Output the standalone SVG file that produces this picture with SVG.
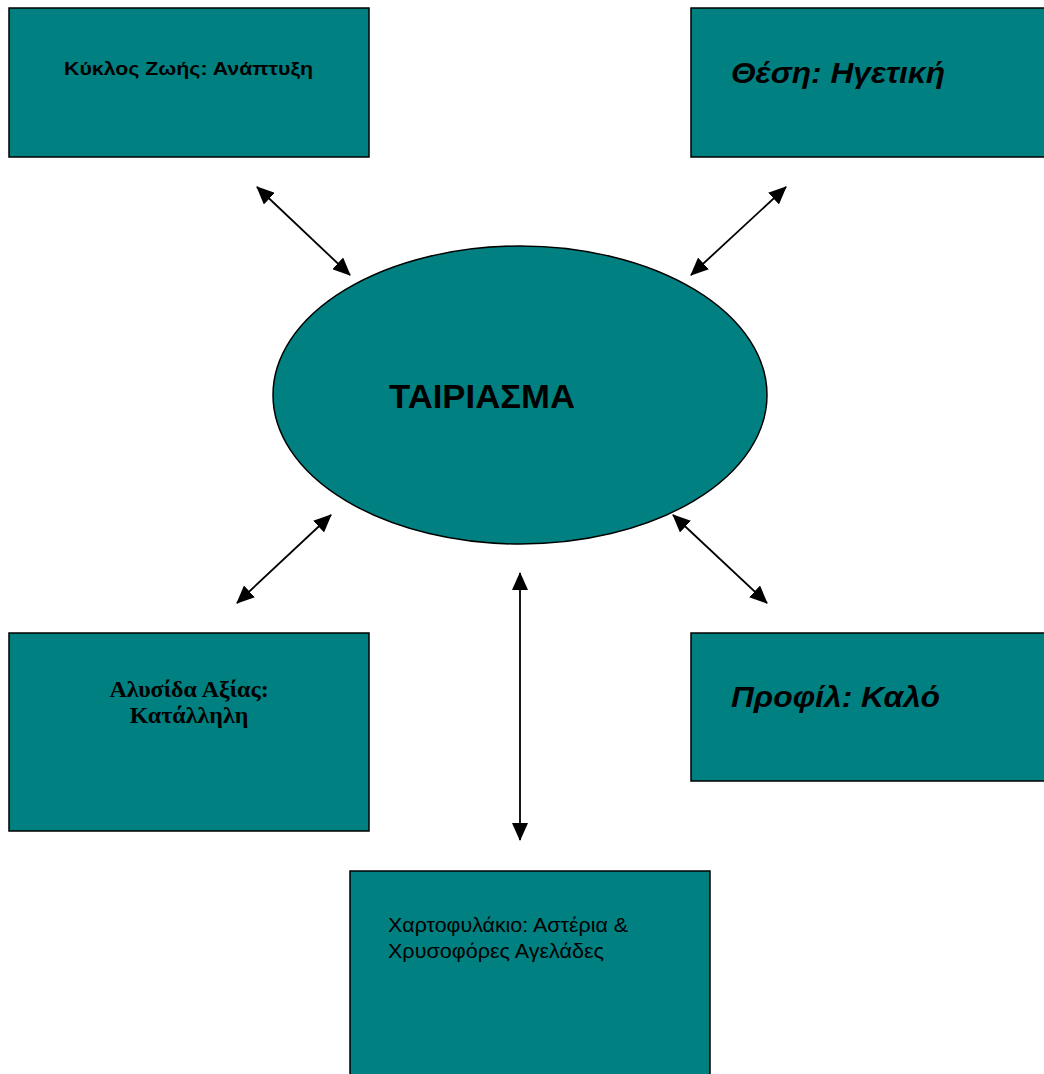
<svg xmlns="http://www.w3.org/2000/svg" width="1044" height="1074" viewBox="0 0 1044 1074">
<defs>
<style>
.box{fill:#008080;stroke:#000;stroke-width:1.5}
.conn{stroke:#000;stroke-width:1.8;fill:none;marker-start:url(#ah);marker-end:url(#ah)}
.sans{font-family:"Liberation Sans",Arial,sans-serif;fill:#000}
.serif{font-family:"Liberation Serif","Times New Roman",serif;fill:#000}
</style>
<marker id="ah" viewBox="0 0 18 16" refX="17" refY="8" markerWidth="18" markerHeight="16" markerUnits="userSpaceOnUse" orient="auto-start-reverse">
<path d="M0,0 L18,8 L0,16 Z" fill="#000"/>
</marker>
</defs>
<rect width="1044" height="1074" fill="#fff"/>
<g id="connectors">
<line class="conn" x1="257" y1="187" x2="350" y2="275"/>
<line class="conn" x1="786" y1="187" x2="691" y2="275"/>
<line class="conn" x1="331" y1="515" x2="237" y2="603"/>
<line class="conn" x1="673" y1="515" x2="767" y2="603"/>
<line class="conn" x1="520" y1="573" x2="520" y2="840"/>
</g>
<g id="center">
<ellipse class="box" cx="520" cy="395" rx="247" ry="149"/>
<text class="sans" x="389" y="408" font-size="33" font-weight="bold" textLength="186" lengthAdjust="spacingAndGlyphs">ΤΑΙΡΙΑΣΜΑ</text>
</g>
<g id="lifecycle">
<rect class="box" x="9" y="8" width="360" height="149"/>
<text class="sans" x="64" y="75" font-size="19" font-weight="bold" textLength="249" lengthAdjust="spacingAndGlyphs">Κύκλος Ζωής: Ανάπτυξη</text>
</g>
<g id="position">
<rect class="box" x="691" y="8" width="360" height="149"/>
<text class="sans" x="731" y="83" font-size="30" font-weight="bold" font-style="italic" textLength="214" lengthAdjust="spacingAndGlyphs">Θέση: Ηγετική</text>
</g>
<g id="valuechain">
<rect class="box" x="9" y="633" width="360" height="198"/>
<text class="serif" x="189" y="697" font-size="24" font-weight="bold" text-anchor="middle">Αλυσίδα Αξίας:</text>
<text class="serif" x="189" y="723" font-size="24" font-weight="bold" text-anchor="middle">Κατάλληλη</text>
</g>
<g id="profile">
<rect class="box" x="691" y="633" width="360" height="148"/>
<text class="sans" x="731" y="707" font-size="30" font-weight="bold" font-style="italic" textLength="209" lengthAdjust="spacingAndGlyphs">Προφίλ: Καλό</text>
</g>
<g id="portfolio">
<rect class="box" x="350" y="871" width="360" height="220"/>
<text class="sans" x="388" y="932" font-size="21" textLength="240" lengthAdjust="spacingAndGlyphs">Χαρτοφυλάκιο: Αστέρια &amp;</text>
<text class="sans" x="388" y="958" font-size="21" textLength="216" lengthAdjust="spacingAndGlyphs">Χρυσοφόρες Αγελάδες</text>
</g>
</svg>
